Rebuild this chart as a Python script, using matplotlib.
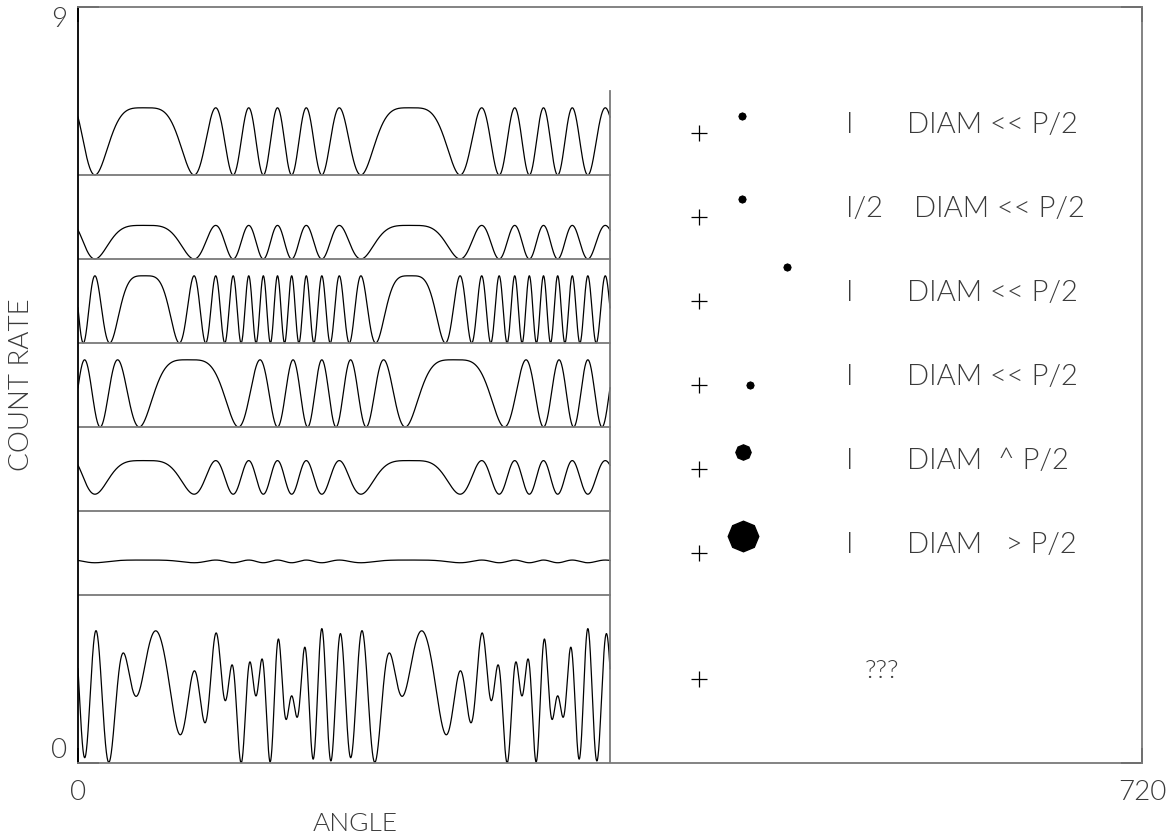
import numpy as np
import matplotlib
matplotlib.use("Agg")
import matplotlib.pyplot as plt

plt.rcParams['font.family'] = ['Lato', 'DejaVu Sans']
plt.rcParams['font.weight'] = 300

# panel baselines (count-rate offset of each strip)
baselines = [7, 6, 5, 4, 3, 2, 0]

# sources: which panel, separation from axis (grid periods), position angle, flux, visibility
src_panel = [0, 1, 2, 3, 4, 5, 6, 6]
src_sep = [3.0, 3.0, 6.0, 3.0, 3.0, 3.0, 6.0, 4.3]
src_angle = [45, 45, 45, 75, 45, 45, 45, 75]
src_flux = [0.8, 0.4, 0.8, 0.8, 0.8, 0.8, 0.8, 0.8]
src_vis = [1.0, 1.0, 1.0, 1.0, 0.5, 0.04, 1.0, 1.0]

# sketch on the right
plus_x = 420
plus_y = [7.5, 6.5, 5.5, 4.5, 3.5, 2.5, 1.0]
dot_x = [449, 449, 480, 455, 450, 450]
dot_y = [7.70, 6.71, 5.91, 4.50, 3.70, 2.70]
dot_size = [5, 5, 5, 5, 11, 22]
flux_lab = ["I", "I/2", "I", "I", "I", "I"]
diam_lab = ["DIAM << P/2", "DIAM << P/2", "DIAM << P/2", "DIAM << P/2",
            "DIAM  ^ P/2", "DIAM   > P/2"]
diam_x = [561, 566, 561, 561, 561, 561]

txt_col = '#3a3a3a'

fig = plt.figure(figsize=(11.76, 8.39), dpi=100)
ax = fig.add_axes([78/1176, 1-763/839, 1064/1176, 756/839])

theta = np.linspace(0, 360, 3601)
th = np.radians(theta)
for k, base in enumerate(baselines):
    y = np.full_like(th, base, dtype=float)
    for p, d, a, f, v in zip(src_panel, src_sep, src_angle, src_flux, src_vis):
        if p == k:
            y += f * 0.5 * (1 + v * np.cos(2*np.pi*d*np.cos(th - np.radians(a))))
    ax.plot(theta, y, color='black', lw=0.9)
    if base > 0:
        ax.plot([0, 360], [base, base], color='#7a7a7a', lw=1.3)
ax.plot([360, 360], [0, 8], color='#7a7a7a', lw=1.3)

# sources sketch
ax.plot([plus_x]*len(plus_y), plus_y, '+', color='black', ms=12, mew=0.9)
for x, y, s in zip(dot_x, dot_y, dot_size):
    ax.plot(x, y, marker=(8, 0, 0), color='black', ms=s)
for i in range(len(flux_lab)):
    ax.text(520, plus_y[i]+0.1, flux_lab[i], fontsize=21, color=txt_col, va='center')
    ax.text(diam_x[i], plus_y[i]+0.1, diam_lab[i], fontsize=21, color=txt_col, va='center')
ax.text(544, plus_y[6]+0.1, "???", fontsize=19, color=txt_col, va='center', ha='center')

ax.set_xlim(0, 720)
ax.set_ylim(0, 9)
for s in ['top', 'right', 'bottom']:
    ax.spines[s].set_color('#7a7a7a')
ax.spines['left'].set_color('black')
for s in ax.spines.values():
    s.set_linewidth(1.3)
ax.set_xticks([0, 720])
ax.set_yticks([0, 9])
ax.tick_params(axis='x', direction='in', length=11, width=1.3, top=True, pad=12,
               labelsize=20, labelcolor=txt_col)
ax.tick_params(axis='y', direction='in', length=15, width=1.3, right=True, pad=8,
               labelsize=20, labelcolor=txt_col)
for lbl, va in zip(ax.get_yticklabels(), ['bottom', 'top']):
    lbl.set_va(va)

fig.text(355/1176, 1-824/839, "ANGLE", fontsize=19, color=txt_col, ha='center', va='center')
fig.text(22/1176, 1-385/839, "COUNT RATE", fontsize=20, color=txt_col, ha='center',
         va='center', rotation=90)

fig.savefig("out.png", dpi=100)
